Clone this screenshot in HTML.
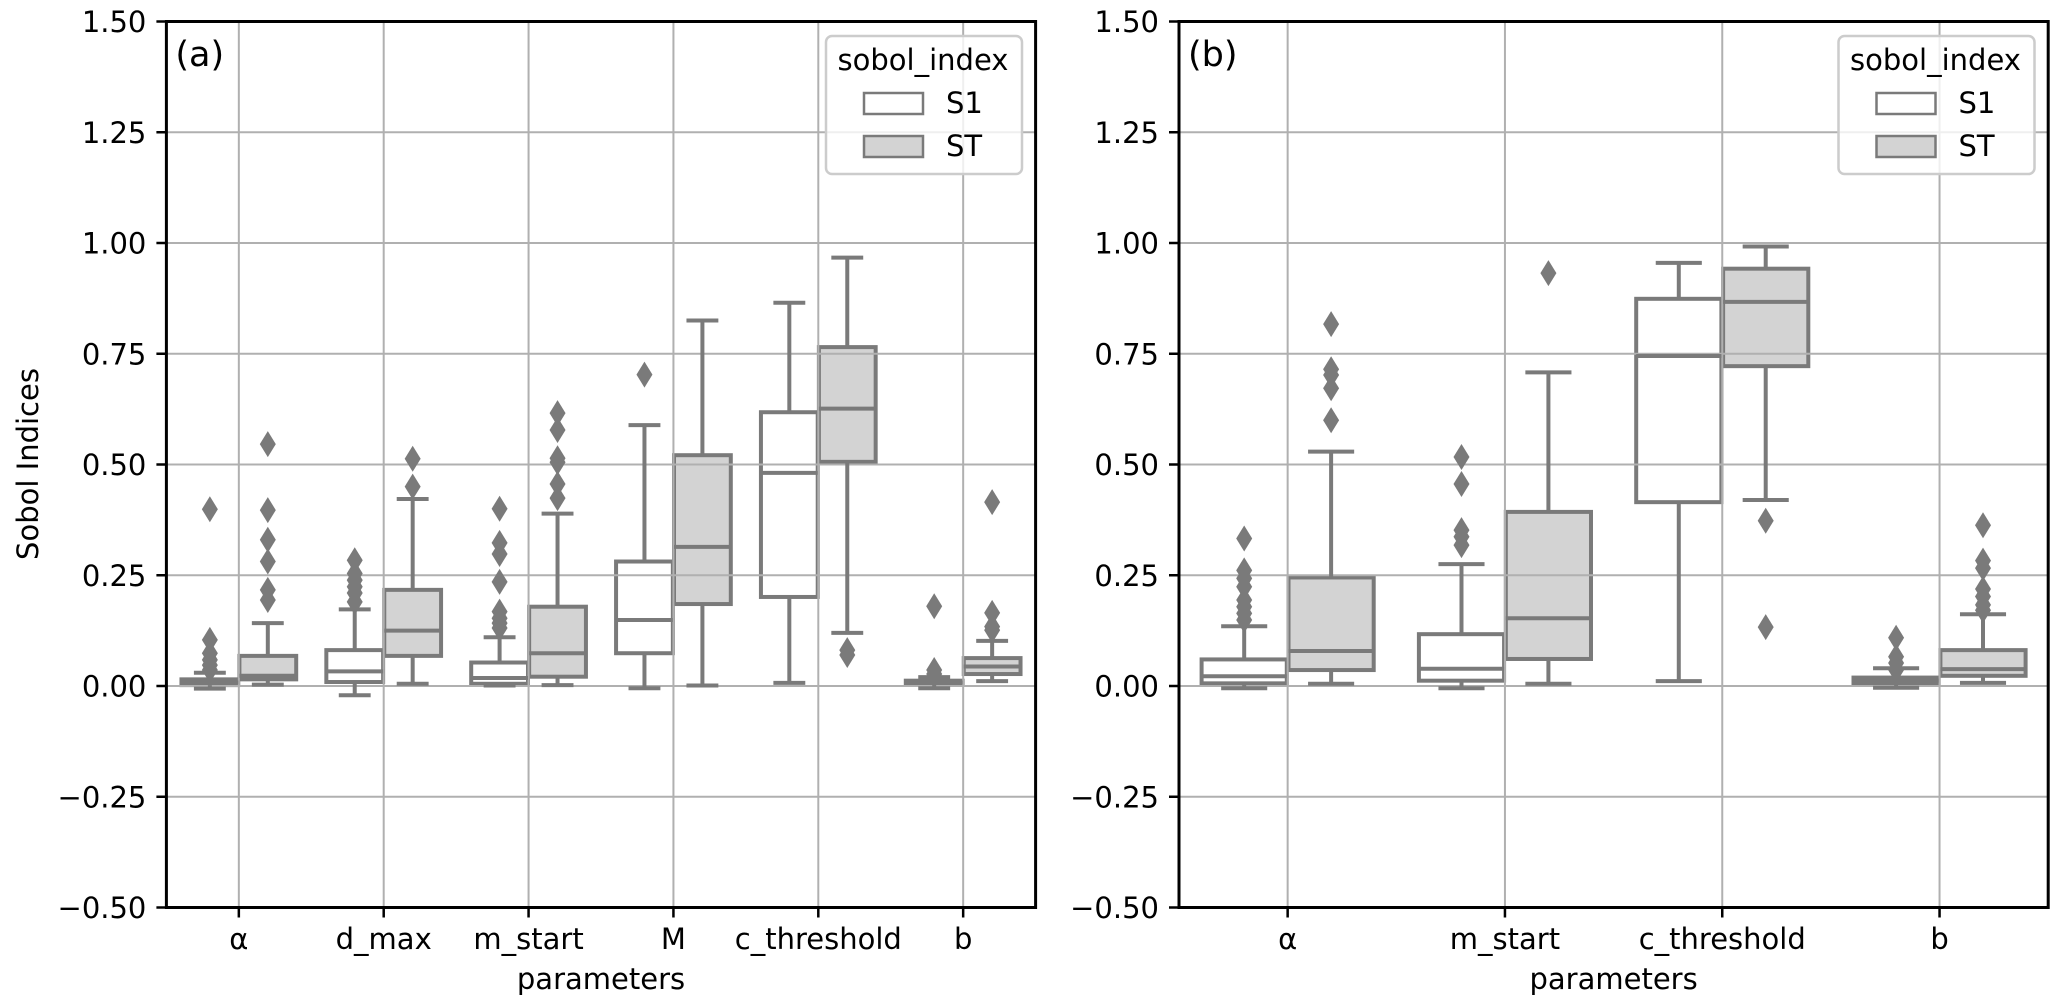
<!DOCTYPE html>
<html lang="en">
<head>
<meta charset="utf-8">
<title>Sobol Indices Boxplots</title>
<style>
html,body{margin:0;padding:0;background:#fff;width:2067px;height:1008px;overflow:hidden}
svg{display:block}
text{font-family:"DejaVu Sans","Liberation Sans",sans-serif;font-size:29px;fill:#000}
text.panel-tag{font-size:35px}
</style>
</head>
<body>
<svg id="figure" width="2067" height="1008" viewBox="0 0 2067 1008" xmlns="http://www.w3.org/2000/svg"></svg>
<script>
const yTicks = [-0.5, -0.25, 0, 0.25, 0.5, 0.75, 1, 1.25, 1.5];

const aCategories = ['α', 'd_max', 'm_start', 'M', 'c_threshold', 'b'];
const aS1Low = [-0.006, -0.021, 0.001, -0.005, 0.007, -0.005];
const aS1Q1 = [0.002, 0.009, 0.005, 0.074, 0.201, 0.004];
const aS1Median = [0.008, 0.033, 0.018, 0.149, 0.481, 0.008];
const aS1Q3 = [0.015, 0.081, 0.053, 0.281, 0.618, 0.012];
const aS1High = [0.03, 0.173, 0.11, 0.589, 0.865, 0.02];
const aS1Fliers = [
  [0.399, 0.104, 0.074, 0.059, 0.047, 0.036],
  [0.284, 0.254, 0.239, 0.224, 0.21, 0.19],
  [0.4, 0.323, 0.298, 0.235, 0.168, 0.153, 0.142, 0.131],
  [0.703],
  [],
  [0.18, 0.036, 0.027]
];
const aSTLow = [0.003, 0.005, 0.002, 0.001, 0.12, 0.011];
const aSTQ1 = [0.015, 0.068, 0.021, 0.185, 0.506, 0.027];
const aSTMedian = [0.023, 0.125, 0.074, 0.314, 0.626, 0.044];
const aSTQ3 = [0.068, 0.217, 0.179, 0.521, 0.765, 0.063];
const aSTHigh = [0.142, 0.422, 0.389, 0.825, 0.967, 0.102];
const aSTFliers = [
  [0.546, 0.397, 0.33, 0.281, 0.217, 0.194],
  [0.513, 0.45],
  [0.616, 0.578, 0.514, 0.505, 0.456, 0.424],
  [],
  [0.081, 0.07],
  [0.415, 0.165, 0.134, 0.126]
];

const bCategories = ['α', 'm_start', 'c_threshold', 'b'];
const bS1Low = [-0.005, -0.005, 0.011, -0.004];
const bS1Q1 = [0.006, 0.012, 0.415, 0.005];
const bS1Median = [0.022, 0.039, 0.745, 0.012];
const bS1Q3 = [0.06, 0.117, 0.874, 0.019];
const bS1High = [0.135, 0.275, 0.955, 0.04];
const bS1Fliers = [
  [0.333, 0.261, 0.243, 0.224, 0.194, 0.179, 0.164, 0.149],
  [0.517, 0.456, 0.352, 0.337, 0.318],
  [],
  [0.109, 0.066, 0.052, 0.036]
];
const bSTLow = [0.005, 0.005, 0.42, 0.007];
const bSTQ1 = [0.036, 0.061, 0.722, 0.023];
const bSTMedian = [0.079, 0.153, 0.867, 0.038];
const bSTQ3 = [0.245, 0.393, 0.942, 0.081];
const bSTHigh = [0.529, 0.708, 0.992, 0.162];
const bSTFliers = [
  [0.817, 0.715, 0.702, 0.672, 0.6],
  [0.932],
  [0.373, 0.133],
  [0.363, 0.283, 0.266, 0.219, 0.202, 0.183, 0.171]
];

const legendTitle = 'sobol_index';
const seriesNames = ['S1', 'ST'];
const yAxisTitle = 'Sobol Indices';
const xAxisTitle = 'parameters';

const BOX_GRAY = '#7a7a7a';
const GRID_GRAY = '#b0b0b0';
const FILLS = ['#ffffff', '#d3d3d3'];
const SVG_NS = 'http://www.w3.org/2000/svg';
const figure = document.getElementById('figure');

function make(tag, attrs, parent) {
  const el = document.createElementNS(SVG_NS, tag);
  for (const k in attrs) el.setAttribute(k, attrs[k]);
  parent.appendChild(el);
  return el;
}

function yScale(v) {
  return 686 - v * 443;
}

function fmtTick(v) {
  const s = Math.abs(v).toFixed(2);
  return v < 0 ? '\u2212' + s : s;
}

function drawPanel(p) {
  const step = (p.right - p.left) / p.categories.length;
  const xScale = function (i) { return p.left + (i + 0.5) * step; };
  const boxW = step * 0.392;
  const capW = boxW * 0.5 + 3.5;

  const root = make('g', {}, figure);
  
  

  make('rect', {x: p.left, y: yScale(1.5), width: p.right - p.left, height: yScale(-0.5) - yScale(1.5), fill: '#fff'}, root);

  // box patches sit below the grid
  const patches = make('g', {}, root);
  
  
  p.series.forEach(function (s, si) {
    p.categories.forEach(function (cat, i) {
      const cx = xScale(i) + (si === 0 ? -0.2 : 0.2) * step;
      const box = make('rect', {x: cx - boxW / 2, y: yScale(s.q3[i]), width: boxW, height: Math.max(yScale(s.q1[i]) - yScale(s.q3[i]), 0), fill: FILLS[si], stroke: BOX_GRAY, 'stroke-width': 4}, patches);
      
      
    });
  });

  // grid
  const grid = make('g', {stroke: GRID_GRAY, 'stroke-width': 2}, root);
  
  
  yTicks.forEach(function (t) {
    make('line', {x1: p.left, x2: p.right, y1: yScale(t), y2: yScale(t)}, grid);
  });
  p.categories.forEach(function (cat, i) {
    make('line', {x1: xScale(i), x2: xScale(i), y1: yScale(1.5), y2: yScale(-0.5)}, grid);
  });

  // whiskers, caps, medians, fliers
  p.series.forEach(function (s, si) {
    p.categories.forEach(function (cat, i) {
      const cx = xScale(i) + (si === 0 ? -0.2 : 0.2) * step;
      const g = make('g', {stroke: BOX_GRAY, 'stroke-width': 4, fill: 'none'}, root);
      
      
      make('line', {x1: cx, x2: cx, y1: yScale(s.q3[i]), y2: yScale(s.high[i])}, g);
      make('line', {x1: cx, x2: cx, y1: yScale(s.q1[i]), y2: yScale(s.low[i])}, g);
      make('line', {x1: cx - capW / 2, x2: cx + capW / 2, y1: yScale(s.high[i]), y2: yScale(s.high[i])}, g);
      make('line', {x1: cx - capW / 2, x2: cx + capW / 2, y1: yScale(s.low[i]), y2: yScale(s.low[i])}, g);
      const median = make('line', {x1: cx - boxW / 2, x2: cx + boxW / 2, y1: yScale(s.median[i]), y2: yScale(s.median[i]), stroke: BOX_GRAY, 'stroke-width': 4}, root);
      
      
      s.fliers[i].forEach(function (v) {
        const y = yScale(v);
        const d = make('polygon', {points: cx + ',' + (y - 13) + ' ' + (cx + 8) + ',' + y + ' ' + cx + ',' + (y + 13) + ' ' + (cx - 8) + ',' + y, fill: BOX_GRAY}, root);
        
        
      });
    });
  });

  // spines
  const frame = make('rect', {x: p.left, y: yScale(1.5), width: p.right - p.left, height: yScale(-0.5) - yScale(1.5), fill: 'none', stroke: '#000', 'stroke-width': 3}, root);
  
  

  // y ticks
  yTicks.forEach(function (t) {
    const tick = make('line', {x1: p.left - 10, x2: p.left, y1: yScale(t), y2: yScale(t), stroke: '#000', 'stroke-width': 2.5}, root);
    
    
    const label = make('text', {x: p.left - 20, y: yScale(t) + 10.5, 'text-anchor': 'end'}, root);
    label.textContent = fmtTick(t);
    
    
  });

  // x ticks
  p.categories.forEach(function (cat, i) {
    const tick = make('line', {x1: xScale(i), x2: xScale(i), y1: yScale(-0.5), y2: yScale(-0.5) + 10, stroke: '#000', 'stroke-width': 2.5}, root);
    
    
    const label = make('text', {x: xScale(i), y: 949, 'text-anchor': 'middle'}, root);
    label.textContent = cat;
    
    
  });

  const xTitle = make('text', {x: (p.left + p.right) / 2, y: 989, 'text-anchor': 'middle'}, root);
  xTitle.textContent = xAxisTitle;
  
  

  const panelLabel = make('text', {x: p.left + 9, y: 66, class: 'panel-tag'}, root);
  panelLabel.textContent = p.tag;
  
  

  // legend
  const dx = p.legendShift;
  const legend = make('g', {}, root);
  
  
  make('rect', {x: 826 + dx, y: 36, width: 196, height: 138, rx: 6, ry: 6, fill: 'rgba(255,255,255,0.8)', stroke: '#cccccc', 'stroke-width': 2.5}, legend);
  const legTitle = make('text', {x: 923 + dx, y: 70, 'text-anchor': 'middle'}, legend);
  legTitle.textContent = legendTitle;
  
  
  const swatchY = [93, 136];
  const labelY = [113, 156];
  seriesNames.forEach(function (name, si) {
    const swatch = make('rect', {x: 864 + dx, y: swatchY[si], width: 59, height: 21, fill: FILLS[si], stroke: BOX_GRAY, 'stroke-width': 2.5}, legend);
    
    
    const lab = make('text', {x: 946 + dx, y: labelY[si]}, legend);
    lab.textContent = name;
    
    
  });
}

drawPanel({
  id: 'a', tag: '(a)', left: 166.4, right: 1035.6, legendShift: 0,
  categories: aCategories,
  series: [
    {low: aS1Low, q1: aS1Q1, median: aS1Median, q3: aS1Q3, high: aS1High, fliers: aS1Fliers},
    {low: aSTLow, q1: aSTQ1, median: aSTMedian, q3: aSTQ3, high: aSTHigh, fliers: aSTFliers}
  ]
});

drawPanel({
  id: 'b', tag: '(b)', left: 1179, right: 2048.2, legendShift: 1012.5,
  categories: bCategories,
  series: [
    {low: bS1Low, q1: bS1Q1, median: bS1Median, q3: bS1Q3, high: bS1High, fliers: bS1Fliers},
    {low: bSTLow, q1: bSTQ1, median: bSTMedian, q3: bSTQ3, high: bSTHigh, fliers: bSTFliers}
  ]
});

const yTitle = make('text', {x: 0, y: 0, 'text-anchor': 'middle', transform: 'translate(38 464) rotate(-90)'}, figure);
yTitle.textContent = yAxisTitle;


</script>
</body>
</html>
